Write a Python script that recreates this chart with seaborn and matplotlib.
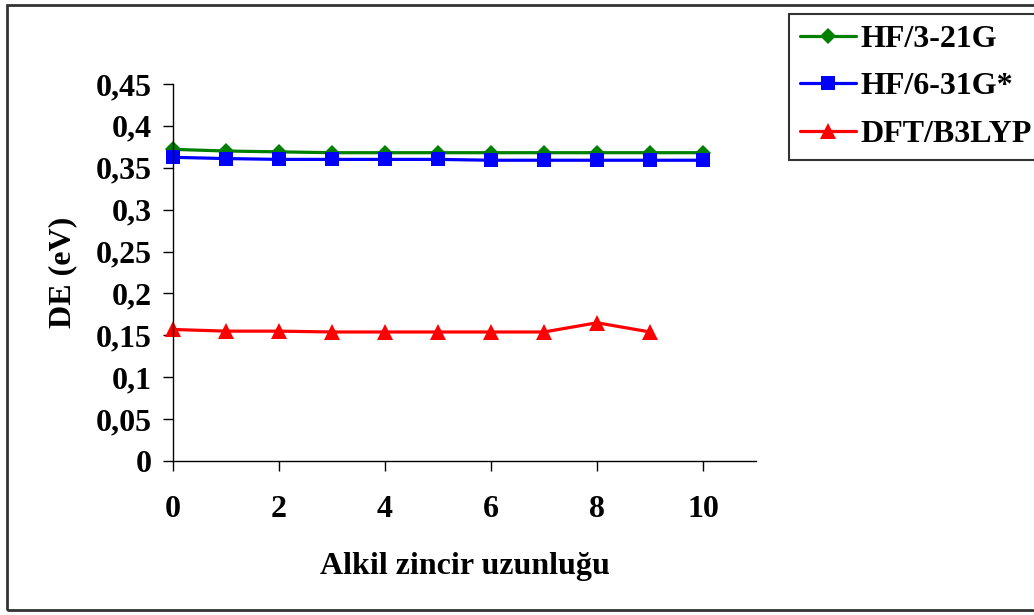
import matplotlib
matplotlib.use("Agg")
import matplotlib.pyplot as plt
from matplotlib.patches import Rectangle
import pandas as pd
import seaborn as sns

# Alkyl chain length (x) and energy gap DE in eV for each method
chain_hf = [0, 1, 2, 3, 4, 5, 6, 7, 8, 9, 10]
chain_dft = [0, 1, 2, 3, 4, 5, 6, 7, 8, 9]
hf_321g = [0.372, 0.370, 0.369, 0.368, 0.368, 0.368, 0.368, 0.368, 0.368, 0.368, 0.368]
hf_631g = [0.3625, 0.361, 0.360, 0.360, 0.360, 0.360, 0.359, 0.359, 0.359, 0.359, 0.359]
dft_b3lyp = [0.157, 0.155, 0.155, 0.154, 0.154, 0.154, 0.154, 0.154, 0.165, 0.154]

series_names = ["HF/3-21G", "HF/6-31G*", "DFT/B3LYP"]
y_ticks = [0, 0.05, 0.1, 0.15, 0.2, 0.25, 0.3, 0.35, 0.4, 0.45]
y_tick_labels = ["0", "0,05", "0,1", "0,15", "0,2", "0,25", "0,3", "0,35", "0,4", "0,45"]
x_ticks = [0, 2, 4, 6, 8, 10]

sns.set_style("white")
plt.rcParams["font.family"] = ["Liberation Serif", "DejaVu Serif"]
plt.rcParams["font.weight"] = "bold"
plt.rcParams["text.color"] = "black"
plt.rcParams["axes.labelcolor"] = "black"
plt.rcParams["xtick.color"] = "black"
plt.rcParams["ytick.color"] = "black"

FS = 23

fig = plt.figure(figsize=(10.34, 6.15), dpi=100)
ax = fig.add_axes([173 / 1034, 1 - 461 / 615, (756 - 173) / 1034, (461 - 84) / 615])

df_321 = pd.DataFrame({"x": chain_hf, "y": hf_321g})
df_631 = pd.DataFrame({"x": chain_hf, "y": hf_631g})
df_dft = pd.DataFrame({"x": chain_dft, "y": dft_b3lyp})

styles = [
    (df_321, "#008000", "D", 8.5),
    (df_631, "#0000FF", "s", 10),
    (df_dft, "#FF0000", "^", 11.5),
]
for (df, color, marker, ms), name in zip(styles, series_names):
    sns.lineplot(data=df, x="x", y="y", ax=ax, color=color, marker=marker,
                 markersize=ms, markeredgewidth=0, linewidth=2.3, label=name,
                 clip_on=False)

ax.set_xlim(0, 11)
ax.set_ylim(0, 0.45)
ax.set_xticks(x_ticks)
ax.set_xticklabels([str(t) for t in x_ticks])
ax.set_yticks(y_ticks)
ax.set_yticklabels(y_tick_labels)

for side in ["top", "right"]:
    ax.spines[side].set_visible(False)
for side in ["left", "bottom"]:
    ax.spines[side].set_color("black")
    ax.spines[side].set_linewidth(1.0)

ax.tick_params(axis="y", direction="out", length=7.5, width=1, colors="black",
               labelsize=FS, pad=8, left=True)
ax.tick_params(axis="x", direction="out", length=7.5, width=1, colors="black",
               labelsize=FS, pad=17, bottom=True)
for lab in ax.get_xticklabels() + ax.get_yticklabels():
    lab.set_fontweight("bold")

ax.set_xlabel("Alkil zincir uzunluğu", fontsize=FS, fontweight="bold", labelpad=20)
ax.set_ylabel("DE (eV)", fontsize=FS, fontweight="bold", labelpad=13)

leg = ax.legend(loc="upper left", bbox_to_anchor=(789 / 1034, 1 - 14 / 615),
                bbox_transform=fig.transFigure, fontsize=FS, frameon=True,
                fancybox=False, shadow=False, handlelength=1.75,
                handletextpad=0.15, borderpad=0.34, labelspacing=0.56,
                borderaxespad=0)
leg.get_frame().set_edgecolor("black")
leg.get_frame().set_linewidth(1.5)
for t in leg.get_texts():
    t.set_fontweight("bold")
    t.set_color("black")

# Outer chart border
fig.patches.append(Rectangle((7 / 1034, 1 - 610 / 615), 1.2, (610 - 5) / 615,
                             transform=fig.transFigure, fill=False,
                             edgecolor="#333333", linewidth=2, zorder=0))

fig.savefig("out.png", dpi=100, facecolor="white")
